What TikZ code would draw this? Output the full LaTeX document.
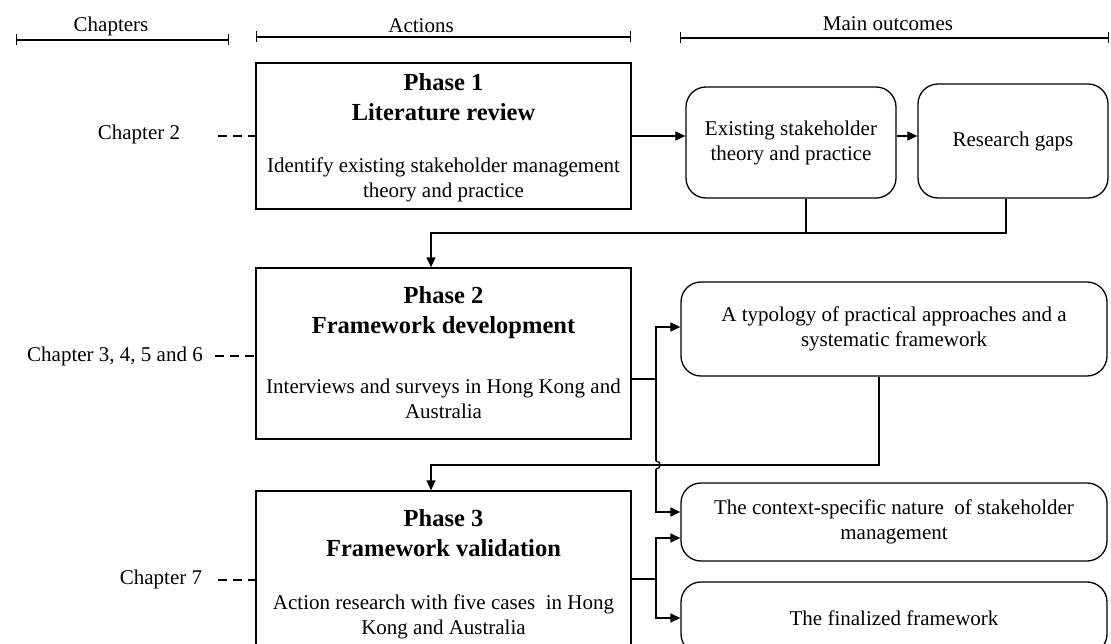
\documentclass[tikz,border=0pt]{standalone}
\usepackage{fontspec}
\setmainfont{Liberation Serif}
\usetikzlibrary{arrows.meta,calc}
\begin{document}
\begin{tikzpicture}[x=1pt,y=-1pt,
  every node/.style={font=\fontsize{21}{25}\selectfont, inner sep=0pt},
  phasebox/.style={draw, line width=1.3pt, minimum width=375pt},
  outbox/.style={draw, line width=1.3pt, rounded corners=20pt, align=center},
  title/.style={font=\fontsize{24.5}{30}\selectfont\bfseries, align=center},
  body/.style={align=center},
  link/.style={line width=1.3pt},
  arr/.style={link, -{Triangle[length=10pt,width=9pt]}},
  chapline/.style={line width=1.3pt, dash pattern=on 9pt off 6pt},
  span/.style={line width=1.4pt, {Bar[width=11pt]}-{Bar[width=11pt]}},
]
\useasboundingbox (0,0) rectangle (1111,644);
\clip (0,0) rectangle (1111,644);

% column headings
\node (hc) at (111,26) {Chapters};
\node (ha) at (421,26) {Actions};
\node (ho) at (888,24) {Main outcomes};
\coordinate (hcl) at (16,40);   \coordinate (hcr) at (229,40);
\coordinate (hal) at (256,37);  \coordinate (har) at (631,37);
\coordinate (hol) at (680,38);  \coordinate (hor) at (1109,38);
\draw[span] (hcl) -- (hcr);
\draw[span] (hal) -- (har);
\draw[span] (hol) -- (hor);

% phase boxes
\node[phasebox, minimum height=146pt] (p1) at (443.5,136) {};
\node[phasebox, minimum height=171pt] (p2) at (443.5,353.5) {};
\node[phasebox, minimum height=178pt] (p3) at (443.5,580) {};

\node[title] (p1t) at (443.5,97) {Phase 1\\Literature review};
\node[body]  (p1b) at (443.5,180) {Identify existing stakeholder management\\theory and practice};
\node[title] (p2t) at (443.5,313) {Phase 2\\Framework development};
\node[body]  (p2b) at (443.5,398.5) {Interviews and surveys in Hong Kong and\\Australia};
\node[title] (p3t) at (443.5,533) {Phase 3\\Framework validation};
\node[body]  (p3b) at (443.5,617) {Action research with five cases\ \ in Hong\\Kong and Australia};

% chapter labels
\node (c1) at (139,134) {Chapter 2};
\node (c2) at (115,356) {Chapter 3, 4, 5 and 6};
\node (c3) at (161,579) {Chapter 7};
\coordinate (d1) at (218,136);
\coordinate (d2) at (215,356);
\coordinate (d3) at (218,580);
\draw[chapline] (d1) -- (d1 -| p1.west);
\draw[chapline] (d2) -- (d2 -| p2.west);
\draw[chapline] (d3) -- (d3 -| p3.west);

% outcome boxes
\node[outbox, minimum width=210pt, minimum height=111pt] (ex) at (791,142.5) {Existing stakeholder\\theory and practice};
\node[outbox, minimum width=190pt, minimum height=114pt] (rg) at (1013,141) {Research gaps};
\node[outbox, minimum width=426pt, minimum height=94pt] (ty) at (894,329) {A typology of practical approaches and a\\systematic framework};
\node[outbox, minimum width=426pt, minimum height=78pt] (cx) at (894,522) {The context-specific nature\ \ of stakeholder\\management};
\node[outbox, minimum width=426pt, minimum height=72pt] (fi) at (894,618) {The finalized framework};

% phase 1 outputs
\draw[arr] (p1.east) -- (p1.east -| ex.west);
\draw[arr] (ex.east |- p1.east) -- (rg.west |- p1.east);

% feedback into phase 2
\coordinate (b1) at (806,233);
\coordinate (b2) at (1006,233);
\coordinate (b3) at (431,233);
\draw[link] (ex.south -| b1) -- (b1);
\draw[arr] (rg.south -| b2) -- (b2) -- (b3) -- (p2.north -| b3);

% phase 2 outputs, with a hop over the phase 3 feedback line
\coordinate (s2) at (656,379);
\coordinate (h1) at (656,461);
\coordinate (h2) at (656,469);
\draw[link] (p2.east |- s2) -- (s2);
\draw[arr] (s2) |- ($(ty.west)+(0,-2)$);
\draw[link] (s2) -- (h1);
\draw[link] (h1) .. controls (661.5,461) and (661.5,469) .. (h2);
\draw[arr] (h2) |- ($(cx.west)+(0,-10)$);

% feedback into phase 3
\coordinate (t1) at (879,465);
\coordinate (t2) at (431,465);
\draw[arr] (ty.south -| t1) -- (t1) -- (t2) -- (p3.north -| t2);

% phase 3 outputs
\coordinate (s3) at (656,579);
\draw[link] (p3.east |- s3) -- (s3);
\draw[arr] (s3) |- ($(cx.west)+(0,16)$);
\draw[arr] (s3) |- (fi.west);
\end{tikzpicture}
\end{document}
